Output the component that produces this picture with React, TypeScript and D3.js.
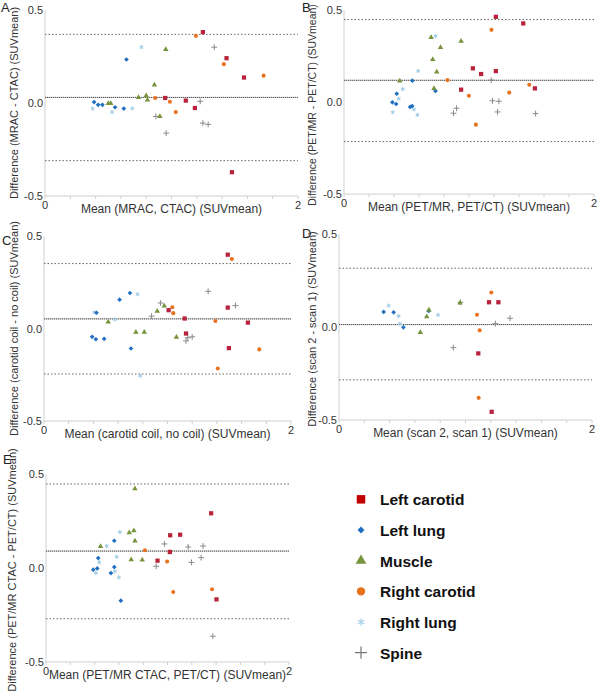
import React from 'react';
import * as d3 from 'd3';

type Pt = [string, number, number];

const SERIES = ['Left carotid', 'Left lung', 'Muscle', 'Right carotid', 'Right lung', 'Spine'];
const COLORS = ['#b8223a', '#1f6fc0', '#77933c', '#e8711e', '#9ccbe6', '#8a8a8a'];
const LEGEND_COLORS = ['#c00000', '#1f6fc0', '#77933c', '#e8711e', '#a9d3ec', '#777777'];

// [series, mean, difference]
const panelA: Pt[] = [
  ['Left lung', 0.388, 0.005], ['Left lung', 0.42, -0.01], ['Left lung', 0.454, -0.01], ['Left lung', 0.554, -0.023], ['Left lung', 0.623, -0.03], ['Left lung', 0.644, 0.234],
  ['Right lung', 0.377, -0.03], ['Right lung', 0.53, -0.049], ['Right lung', 0.689, -0.029], ['Right lung', 0.762, 0.3],
  ['Muscle', 0.5, -0.002], ['Muscle', 0.52, -0.002], ['Muscle', 0.739, 0.03], ['Muscle', 0.8, 0.04], ['Muscle', 0.81, 0.016], ['Muscle', 0.865, 0.097], ['Muscle', 0.908, -0.072], ['Muscle', 0.955, 0.288],
  ['Spine', 0.876, -0.072], ['Spine', 0.958, -0.162], ['Spine', 1.227, 0.009], ['Spine', 1.248, -0.108], ['Spine', 1.29, -0.115], ['Spine', 1.338, 0.3],
  ['Right carotid', 0.871, 0.027], ['Right carotid', 0.987, 0.007], ['Right carotid', 1.034, -0.049], ['Right carotid', 1.193, 0.361], ['Right carotid', 1.414, 0.209], ['Right carotid', 1.728, 0.147],
  ['Left carotid', 0.95, 0.027], ['Left carotid', 1.113, 0.013], ['Left carotid', 1.185, -0.027], ['Left carotid', 1.248, 0.381], ['Left carotid', 1.435, 0.241], ['Left carotid', 1.573, 0.137], ['Left carotid', 1.478, -0.372],
];
const linesA = [0.369, 0.03, -0.31];

const panelB: Pt[] = [
  ['Left lung', 0.387, -0.002], ['Left lung', 0.417, -0.011], ['Left lung', 0.422, 0.045], ['Left lung', 0.529, -0.027], ['Left lung', 0.545, -0.022], ['Left lung', 0.547, 0.116], ['Left lung', 0.732, 0.06],
  ['Right lung', 0.39, -0.056], ['Right lung', 0.438, 0.018], ['Right lung', 0.47, 0.07], ['Right lung', 0.56, -0.04], ['Right lung', 0.587, -0.07], ['Right lung', 0.593, 0.168], ['Right lung', 0.732, 0.358],
  ['Muscle', 0.446, 0.114], ['Muscle', 0.697, 0.351], ['Muscle', 0.71, 0.231], ['Muscle', 0.72, 0.074], ['Muscle', 0.742, 0.163], ['Muscle', 0.772, 0.297], ['Muscle', 0.937, 0.331],
  ['Spine', 0.876, -0.061], ['Spine', 0.9, -0.034], ['Spine', 1.178, 0.119], ['Spine', 1.188, 0.007], ['Spine', 1.228, -0.054], ['Spine', 1.239, 0.004], ['Spine', 1.533, -0.063],
  ['Right carotid', 0.828, 0.119], ['Right carotid', 0.999, 0.034], ['Right carotid', 1.055, -0.123], ['Right carotid', 1.18, 0.392], ['Right carotid', 1.322, 0.051], ['Right carotid', 1.482, 0.094],
  ['Left carotid', 0.937, 0.067], ['Left carotid', 1.031, 0.183], ['Left carotid', 1.097, 0.152], ['Left carotid', 1.215, 0.168], ['Left carotid', 1.215, 0.463], ['Left carotid', 1.434, 0.427], ['Left carotid', 1.527, 0.074],
];
const linesB = [0.448, 0.118, -0.215];

const panelC: Pt[] = [
  ['Left lung', 0.39, -0.045], ['Left lung', 0.42, -0.058], ['Left lung', 0.425, 0.085], ['Left lung', 0.487, -0.056], ['Left lung', 0.612, 0.156], ['Left lung', 0.696, 0.192], ['Left lung', 0.704, -0.108],
  ['Right lung', 0.406, 0.088], ['Right lung', 0.574, 0.049], ['Right lung', 0.758, 0.185], ['Right lung', 0.779, -0.255],
  ['Muscle', 0.52, 0.036], ['Muscle', 0.744, -0.02], ['Muscle', 0.812, -0.02], ['Muscle', 0.917, 0.094], ['Muscle', 0.974, 0.122], ['Muscle', 1.072, -0.047],
  ['Spine', 0.871, 0.067], ['Spine', 0.944, 0.138], ['Spine', 1.15, -0.067], ['Spine', 1.164, -0.05], ['Spine', 1.2, -0.045], ['Spine', 1.329, 0.201], ['Spine', 1.55, 0.124],
  ['Right carotid', 1.039, 0.115], ['Right carotid', 1.047, 0.083], ['Right carotid', 1.388, 0.041], ['Right carotid', 1.407, -0.216], ['Right carotid', 1.521, 0.376], ['Right carotid', 1.743, -0.113],
  ['Left carotid', 1.009, 0.099], ['Left carotid', 1.139, 0.054], ['Left carotid', 1.15, -0.027], ['Left carotid', 1.488, 0.399], ['Left carotid', 1.488, 0.113], ['Left carotid', 1.497, -0.106], ['Left carotid', 1.651, 0.032],
];
const linesC = [0.351, 0.052, -0.246];

const panelD: Pt[] = [
  ['Left lung', 0.353, 0.081], ['Left lung', 0.432, 0.079], ['Left lung', 0.509, -0.002], ['Left lung', 0.709, 0.086],
  ['Right lung', 0.393, 0.115], ['Right lung', 0.472, 0.059], ['Right lung', 0.482, 0.018], ['Right lung', 0.783, 0.065],
  ['Muscle', 0.643, -0.029], ['Muscle', 0.693, 0.056], ['Muscle', 0.711, 0.092], ['Muscle', 0.957, 0.129],
  ['Spine', 0.904, -0.111], ['Spine', 1.236, 0.018], ['Spine', 1.352, 0.047], ['Spine', 0.96, 0.133],
  ['Right carotid', 1.091, 0.066], ['Right carotid', 1.112, -0.018], ['Right carotid', 1.104, -0.381], ['Right carotid', 1.204, 0.185],
  ['Left carotid', 1.101, -0.142], ['Left carotid', 1.186, 0.133], ['Left carotid', 1.26, 0.133], ['Left carotid', 1.207, -0.456],
];
const linesD = [0.316, 0.013, -0.284];

const panelE: Pt[] = [
  ['Left lung', 0.389, -0.009], ['Left lung', 0.422, -0.002], ['Left lung', 0.43, 0.053], ['Left lung', 0.534, -0.027], ['Left lung', 0.562, 0.005], ['Left lung', 0.562, 0.145], ['Left lung', 0.616, -0.174],
  ['Right lung', 0.411, -0.027], ['Right lung', 0.438, 0.03], ['Right lung', 0.499, 0.117], ['Right lung', 0.567, -0.018], ['Right lung', 0.581, 0.06], ['Right lung', 0.6, -0.05], ['Right lung', 0.608, 0.191],
  ['Muscle', 0.449, 0.115], ['Muscle', 0.685, 0.188], ['Muscle', 0.701, 0.044], ['Muscle', 0.723, 0.199], ['Muscle', 0.732, 0.144], ['Muscle', 0.732, 0.422], ['Muscle', 0.792, 0.043],
  ['Spine', 0.907, 0.009], ['Spine', 0.975, 0.128], ['Spine', 1.17, 0.112], ['Spine', 1.197, 0.03], ['Spine', 1.277, 0.055], ['Spine', 1.293, 0.117], ['Spine', 1.373, -0.363],
  ['Right carotid', 0.814, 0.094], ['Right carotid', 0.997, 0.035], ['Right carotid', 1.019, 0.087], ['Right carotid', 1.047, -0.128], ['Right carotid', 1.367, -0.113],
  ['Left carotid', 0.918, 0.039], ['Left carotid', 1.022, 0.174], ['Left carotid', 1.104, 0.177], ['Left carotid', 1.359, 0.291], ['Left carotid', 1.403, -0.167], ['Left carotid', 1.019, 0.085],
];
const linesE = [0.447, 0.09, -0.27];

const X_TICK_LABELS = ['0', '2'];
const Y_TICK_LABELS = ['0.5', '0.0', '-0.5'];
const Y_TICK_VALUES = [0.5, 0, -0.5];

const panels = [
  { letter: 'A', pts: panelA, lines: linesA, xTitle: 'Mean (MRAC, CTAC) (SUVmean)', yTitle: 'Difference (MRAC - CTAC) (SUVmean)',
    x0: 45, x1: 298, yt: 10, yb: 196, lx: 1, ly: 12, ytx: 15, yfs: 11, ytOff: 0 },
  { letter: 'B', pts: panelB, lines: linesB, xTitle: 'Mean (PET/MR, PET/CT) (SUVmean)', yTitle: 'Difference (PET/MR - PET/CT) (SUVmean)',
    x0: 344, x1: 594, yt: 10, yb: 194, lx: 302, ly: 12, ytx: 313, yfs: 10.5, ytOff: 3 },
  { letter: 'C', pts: panelC, lines: linesC, xTitle: 'Mean (carotid coil, no coil) (SUVmean)', yTitle: 'Difference (carotid coil - no coil) (SUVmean)',
    x0: 44, x1: 291, yt: 236, yb: 421, lx: 2, ly: 245, ytx: 15, yfs: 11, ytOff: 0 },
  { letter: 'D', pts: panelD, lines: linesD, xTitle: 'Mean (scan 2, scan 1) (SUVmean)', yTitle: 'Difference (scan 2 - scan 1) (SUVmean)',
    x0: 339, x1: 592, yt: 234, yb: 420, lx: 302, ly: 238, ytx: 313, yfs: 11, ytOff: 2 },
  { letter: 'E', pts: panelE, lines: linesE, xTitle: 'Mean (PET/MR CTAC, PET/CT) (SUVmean)', yTitle: 'Difference (PET/MR CTAC - PET/CT) (SUVmean)',
    x0: 46, x1: 289, yt: 474, yb: 662, lx: 3, ly: 464, ytx: 13, yfs: 11, ytOff: 2 },
];

const FONT = '"Liberation Sans", Arial, sans-serif';

function symbolFor(s: string, big: boolean) {
  switch (s) {
    case 'Left carotid': return { path: d3.symbol(d3.symbolSquare, big ? 72 : 18)()!, stroke: false, rot: 0 };
    case 'Left lung': return { path: d3.symbol(d3.symbolSquare, big ? 24 : 11)()!, stroke: false, rot: 45 };
    case 'Muscle': return { path: d3.symbol(d3.symbolTriangle, big ? 50 : 13)()!, stroke: false, rot: 0 };
    case 'Right carotid': return { path: d3.symbol(d3.symbolCircle, big ? 55 : 13)()!, stroke: false, rot: 0 };
    case 'Right lung': return { path: d3.symbol(d3.symbolAsterisk, big ? 40 : 12)()!, stroke: true, rot: 0 };
    default: return { path: d3.symbol(d3.symbolPlus, big ? 50 : 13)()!, stroke: true, rot: 0 };
  }
}

function Marker({ s, x, y, big }: { s: string; x: number; y: number; big?: boolean }) {
  const i = SERIES.indexOf(s);
  const c = big ? LEGEND_COLORS[i] : COLORS[i];
  const m = symbolFor(s, !!big);
  const tr = `translate(${x},${y}) rotate(${m.rot})${m.rot && big ? ' scale(1,1)' : ''}`;
  return m.stroke
    ? <path d={m.path} transform={tr} fill="none" stroke={c} strokeWidth={big ? 1.2 : 1} />
    : <path d={m.path} transform={tr} fill={c} />;
}

function Panel({ p }: { p: typeof panels[number] }) {
  const x = d3.scaleLinear().domain([0, 2]).range([p.x0, p.x1]);
  const y = d3.scaleLinear().domain([-0.5, 0.5]).range([p.yb, p.yt]);
  const xt = d3.range(0, 2.0001, 0.2);
  const ym = (p.yt + p.yb) / 2 + p.ytOff;
  const order = ['Spine', 'Right lung', 'Left lung', 'Muscle', 'Right carotid', 'Left carotid'];
  const pts = [...p.pts].sort((a, b) => order.indexOf(a[0]) - order.indexOf(b[0]));
  return (
    <g>
      <text x={p.lx} y={p.ly} fontFamily={FONT} fontSize={13} fill="#222">{p.letter}</text>
      <line x1={x(0)} x2={x(0)} y1={y(0.5)} y2={y(-0.5)} stroke="#cfcfcf" strokeWidth={1} />
      <line x1={x(0)} x2={x(2)} y1={y(-0.5)} y2={y(-0.5)} stroke="#cfcfcf" strokeWidth={1} />
      {xt.map((v, i) => (
        <line key={i} x1={x(v)} x2={x(v)} y1={y(-0.5)} y2={y(-0.5) + 3} stroke="#cfcfcf" />
      ))}
      {Y_TICK_VALUES.map((v, i) => (
        <text key={i} x={x(0) - 2} y={y(v) + 4} textAnchor="end" fontFamily={FONT} fontSize={11} fill="#333">{Y_TICK_LABELS[i]}</text>
      ))}
      {[0, 2].map((v, i) => (
        <text key={i} x={x(v)} y={y(-0.5) + 13} textAnchor="middle" fontFamily={FONT} fontSize={11} fill="#333">{X_TICK_LABELS[i]}</text>
      ))}
      <text x={(p.x0 + p.x1) / 2} y={y(-0.5) + 17} textAnchor="middle" fontFamily={FONT} fontSize={12} fill="#333">{p.xTitle}</text>
      <text transform={`translate(${p.ytx},${ym}) rotate(-90)`} textAnchor="middle" dominantBaseline="middle" fontFamily={FONT} fontSize={p.yfs} fill="#333">{p.yTitle}</text>
      <line x1={x(0)} x2={x(2)} y1={y(p.lines[1])} y2={y(p.lines[1])} stroke="#b8b8b8" strokeWidth={1} />
      <line x1={x(0)} x2={x(2)} y1={y(p.lines[1])} y2={y(p.lines[1])} stroke="#555" strokeWidth={1} strokeDasharray="1,1" />
      {[p.lines[0], p.lines[2]].map((v, i) => (
        <line key={i} x1={x(0)} x2={x(2)} y1={y(v)} y2={y(v)} stroke="#666" strokeWidth={1} strokeDasharray="1.5,2" />
      ))}
      {pts.map((d, i) => <Marker key={i} s={d[0]} x={x(d[1])} y={y(d[2])} />)}
    </g>
  );
}

export default function App() {
  const ly = d3.scaleBand().domain(SERIES).range([487, 671]);
  return (
    <div style={{ position: 'absolute', left: 0, top: 0 }}>
      <svg width={602} height={700} style={{ display: 'block', background: '#fff' }}>
        {panels.map(p => <Panel key={p.letter} p={p} />)}
        {SERIES.map(s => (
          <g key={s}>
            <Marker s={s} x={361} y={ly(s)! + ly.bandwidth() / 2 - 3} big />
            <text x={380} y={ly(s)! + ly.bandwidth() / 2 + 3} fontFamily={FONT} fontWeight="bold" fontSize={15.5} fill="#111">{s}</text>
          </g>
        ))}
      </svg>
    </div>
  );
}
